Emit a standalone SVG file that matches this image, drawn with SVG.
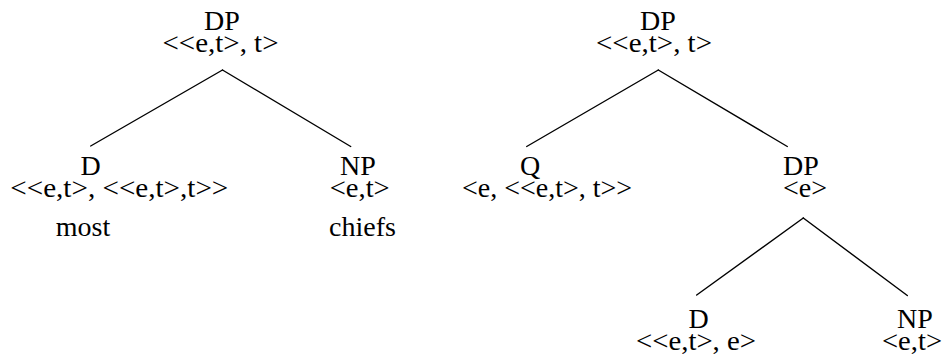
<svg xmlns="http://www.w3.org/2000/svg" width="944" height="364" viewBox="0 0 944 364">
  <style>
    text { font-family: "Liberation Serif", "Times New Roman", serif; font-size: 28px; fill: #000; text-anchor: middle; }
    .edge { stroke: #000; stroke-width: 1.4; fill: none; stroke-linecap: round; }
  </style>
  <rect width="944" height="364" fill="#fff"/>

  <!-- connectors -->
  <g id="edges">
    <line class="edge" x1="222.5" y1="70" x2="90.7" y2="146"/>
    <line class="edge" x1="222.5" y1="70" x2="350.7" y2="146.5"/>
    <line class="edge" x1="658.3" y1="70" x2="526.7" y2="146.5"/>
    <line class="edge" x1="658.3" y1="70" x2="787.3" y2="146.5"/>
    <line class="edge" x1="803.3" y1="218" x2="696.7" y2="295"/>
    <line class="edge" x1="803.3" y1="218" x2="907.3" y2="295.5"/>
  </g>

  <!-- left tree -->
  <g id="dp-left">
    <text x="222" y="30">DP</text>
    <text x="220.5" y="52" textLength="116" lengthAdjust="spacingAndGlyphs">&lt;&lt;e,t&gt;, t&gt;</text>
  </g>
  <g id="d-most">
    <text x="90.5" y="174.5">D</text>
    <text x="119.3" y="196.5" textLength="218" lengthAdjust="spacingAndGlyphs">&lt;&lt;e,t&gt;, &lt;&lt;e,t&gt;,t&gt;&gt;</text>
    <text x="83" y="236">most</text>
  </g>
  <g id="np-chiefs">
    <text x="358" y="174.5">NP</text>
    <text x="359.7" y="196.5" textLength="60" lengthAdjust="spacingAndGlyphs">&lt;e,t&gt;</text>
    <text x="362.5" y="236">chiefs</text>
  </g>

  <!-- right tree -->
  <g id="dp-right">
    <text x="658" y="30">DP</text>
    <text x="654" y="52" textLength="116" lengthAdjust="spacingAndGlyphs">&lt;&lt;e,t&gt;, t&gt;</text>
  </g>
  <g id="q">
    <text x="530" y="174.5">Q</text>
    <text x="547" y="196.5">&lt;e, &lt;&lt;e,t&gt;, t&gt;&gt;</text>
  </g>
  <g id="dp-inner">
    <text x="801" y="174.5">DP</text>
    <text x="805" y="196.5">&lt;e&gt;</text>
  </g>
  <g id="d-inner">
    <text x="698.5" y="328">D</text>
    <text x="696" y="350" textLength="120" lengthAdjust="spacingAndGlyphs">&lt;&lt;e,t&gt;, e&gt;</text>
  </g>
  <g id="np-inner">
    <text x="915" y="328">NP</text>
    <text x="912" y="350" textLength="60" lengthAdjust="spacingAndGlyphs">&lt;e,t&gt;</text>
  </g>
</svg>
